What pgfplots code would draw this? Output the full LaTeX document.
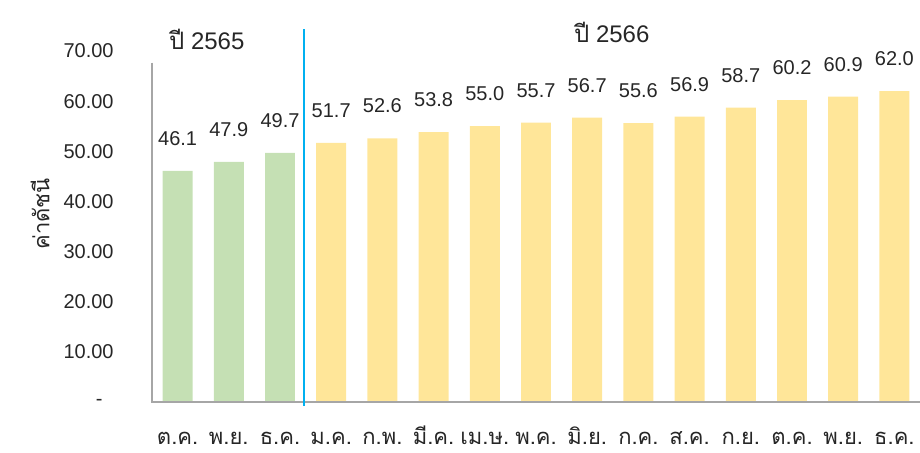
\documentclass[border=0pt]{standalone}
\usepackage{fontspec}
\setmainfont{Liberation Sans}
\newfontfamily\thai[Script=Thai]{Loma}
\usepackage{pgfplots}
\pgfplotsset{compat=1.18}
\definecolor{gbar}{HTML}{C5E0B4}
\definecolor{ybar}{HTML}{FFE699}
\definecolor{sep}{HTML}{00B0F0}
\definecolor{txt}{HTML}{262626}
\begin{document}
\begin{tikzpicture}
\useasboundingbox (-76pt,-25.5pt) rectangle (384pt,201pt);
\begin{axis}[
  scale only axis, width=384pt, height=175.5pt,
  xmin=-0.5, xmax=14.5, ymin=0, ymax=70,
  clip=false,
  axis line style={draw=none},
  major tick length=0pt,
  /pgf/number format/assume math mode=true,
  ytick={0,10,20,30,40,50,60,70},
  yticklabels={{-\hphantom{0}},10.00,20.00,30.00,40.00,50.00,60.00,70.00},
  yticklabel style={anchor=east, inner sep=0pt, xshift=-19pt, font=\fontsize{10}{12}\selectfont, text=txt},
  xtick={0,...,14},
  xticklabels={ต.ค.,พ.ย.,ธ.ค.,ม.ค.,ก.พ.,มี.ค.,เม.ษ.,พ.ค.,มิ.ย.,ก.ค.,ส.ค.,ก.ย.,ต.ค.,พ.ย.,ธ.ค.},
  xticklabel style={font=\thai\fontsize{11}{13}\selectfont, text=txt, anchor=base, inner sep=0pt, yshift=-21.5pt},
  ybar, bar width=0.585,
  nodes near coords,
  nodes near coords style={font=\fontsize{10}{12}\selectfont, text=txt, yshift=9pt, /pgf/number format/fixed, /pgf/number format/fixed zerofill, /pgf/number format/precision=1},
]
\addplot[fill=gbar, draw=none, bar shift=0pt] coordinates {(0,46.1) (1,47.9) (2,49.7)};
\addplot[fill=ybar, draw=none, bar shift=0pt] coordinates {(3,51.7) (4,52.6) (5,53.8) (6,55.0) (7,55.7) (8,56.7) (9,55.6) (10,56.9) (11,58.7) (12,60.2) (13,60.9) (14,62.0)};
\draw[gray!70, line width=0.6pt] (axis cs:-0.5,67.7) -- (axis cs:-0.5,0) -- (axis cs:14.5,0);
\draw[sep, line width=1.3pt] (axis cs:2.47,-0.8) -- (axis cs:2.47,74.4);
\node[font=\fontsize{12}{14}\selectfont, text=txt] at (axis cs:0.57,72.4) {{\thai ปี} 2565};
\node[font=\fontsize{12}{14}\selectfont, text=txt] at (axis cs:8.48,73.8) {{\thai ปี} 2566};
\node[rotate=90, font=\thai\fontsize{11}{13}\selectfont, text=txt] at ([xshift=-56pt]axis cs:-0.5,37.5) {ค่าดัชนี};
\end{axis}
\end{tikzpicture}
\end{document}
